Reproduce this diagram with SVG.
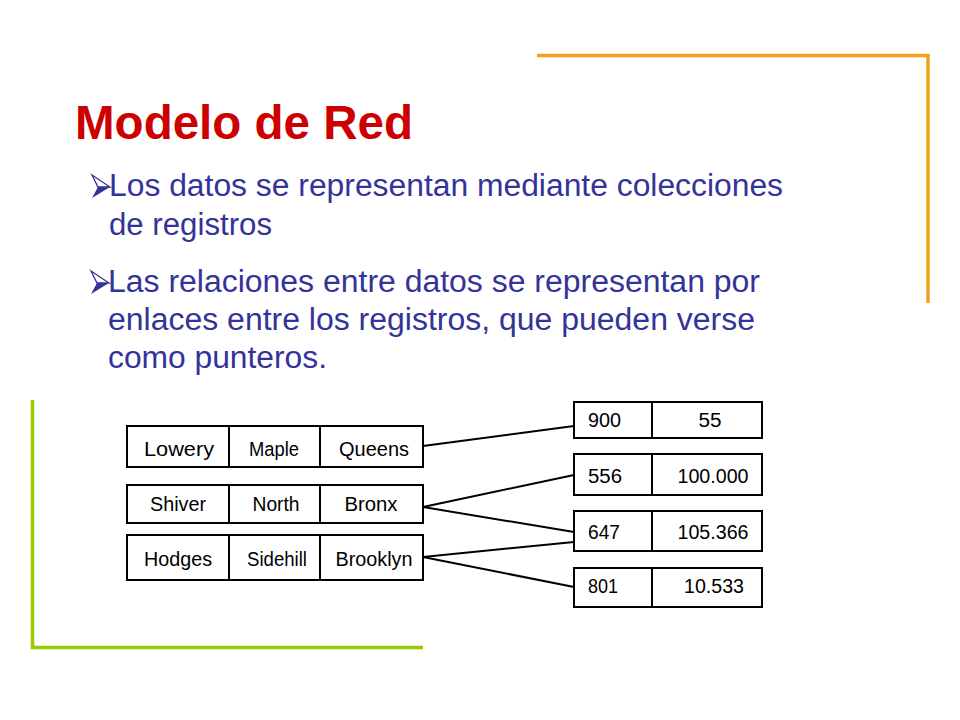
<svg xmlns="http://www.w3.org/2000/svg" width="960" height="720" viewBox="0 0 960 720">
<style>
.title{font-family:"Liberation Sans",Arial,sans-serif;font-weight:bold;font-size:48px;fill:#cc0000}
.body{font-family:"Liberation Sans",Arial,sans-serif;font-size:31px;fill:#333399}
.cell{fill:#fff;stroke:#000;stroke-width:2}
.div{stroke:#000;stroke-width:2}
.t{font-family:"Liberation Sans",Arial,sans-serif;font-size:20px;fill:#000}
.tc{text-anchor:middle}
.conn line{stroke:#000;stroke-width:2}
.bul-top{fill:#fff;stroke:#333399;stroke-width:1.3}
.bul-bot{fill:#333399}
</style>
<rect width="960" height="720" fill="#fff"/>
<g id="frame">
<polyline points="537,55.5 928,55.5 928,303" fill="none" stroke="#f5a01a" stroke-width="3.5"/>
<polyline points="32.5,400 32.5,647.5 423,647.5" fill="none" stroke="#99cc00" stroke-width="3.5"/>
</g>
<g id="title"><text class="title" x="75" y="139" textLength="338" lengthAdjust="spacingAndGlyphs">Modelo de Red</text></g>
<g id="bullets">
<polygon class="bul-top" points="92,175 110,187 98,187"/>
<polygon class="bul-bot" points="98,187 110,187 92,198"/>
<text class="body" x="109" y="196" textLength="674" lengthAdjust="spacingAndGlyphs">Los datos se representan mediante colecciones</text>
<text class="body" x="109" y="235" textLength="163" lengthAdjust="spacingAndGlyphs">de registros</text>
<polygon class="bul-top" points="91,271 109,283 97,283"/>
<polygon class="bul-bot" points="97,283 109,283 91,294"/>
<text class="body" x="108" y="292" textLength="652" lengthAdjust="spacingAndGlyphs">Las relaciones entre datos se representan por</text>
<text class="body" x="108" y="330" textLength="647" lengthAdjust="spacingAndGlyphs">enlaces entre los registros, que pueden verse</text>
<text class="body" x="108" y="368" textLength="219" lengthAdjust="spacingAndGlyphs">como punteros.</text>
</g>
<g class="conn" id="connectors">
<line x1="423" y1="446" x2="574" y2="426"/>
<line x1="423" y1="507" x2="574" y2="475"/>
<line x1="423" y1="507" x2="574" y2="532"/>
<line x1="423" y1="557" x2="574" y2="542"/>
<line x1="423" y1="557" x2="574" y2="587"/>
</g>
<g id="rec-lowery">
<rect class="cell" x="127" y="426" width="296" height="41"/>
<line class="div" x1="229" y1="426" x2="229" y2="467"/>
<line class="div" x1="320" y1="426" x2="320" y2="467"/>
<text class="t tc" x="179" y="456" textLength="70" lengthAdjust="spacingAndGlyphs">Lowery</text>
<text class="t tc" x="274" y="456" textLength="50" lengthAdjust="spacingAndGlyphs">Maple</text>
<text class="t tc" x="374" y="456" textLength="70" lengthAdjust="spacingAndGlyphs">Queens</text>
</g>
<g id="rec-shiver">
<rect class="cell" x="127" y="485" width="296" height="38"/>
<line class="div" x1="229" y1="485" x2="229" y2="523"/>
<line class="div" x1="320" y1="485" x2="320" y2="523"/>
<text class="t tc" x="178" y="511" textLength="56" lengthAdjust="spacingAndGlyphs">Shiver</text>
<text class="t tc" x="276" y="511" textLength="47" lengthAdjust="spacingAndGlyphs">North</text>
<text class="t tc" x="371" y="511" textLength="53" lengthAdjust="spacingAndGlyphs">Bronx</text>
</g>
<g id="rec-hodges">
<rect class="cell" x="127" y="535" width="296" height="45"/>
<line class="div" x1="229" y1="535" x2="229" y2="580"/>
<line class="div" x1="320" y1="535" x2="320" y2="580"/>
<text class="t tc" x="178" y="566" textLength="68" lengthAdjust="spacingAndGlyphs">Hodges</text>
<text class="t tc" x="277" y="566" textLength="60" lengthAdjust="spacingAndGlyphs">Sidehill</text>
<text class="t tc" x="374" y="566" textLength="77" lengthAdjust="spacingAndGlyphs">Brooklyn</text>
</g>
<g id="rec-900">
<rect class="cell" x="574" y="402" width="188" height="36"/>
<line class="div" x1="652" y1="402" x2="652" y2="438"/>
<text class="t" x="588" y="427" textLength="33" lengthAdjust="spacingAndGlyphs">900</text>
<text class="t tc" x="710" y="427" textLength="23" lengthAdjust="spacingAndGlyphs">55</text>
</g>
<g id="rec-556">
<rect class="cell" x="574" y="454" width="188" height="41"/>
<line class="div" x1="652" y1="454" x2="652" y2="495"/>
<text class="t" x="588" y="483" textLength="34" lengthAdjust="spacingAndGlyphs">556</text>
<text class="t tc" x="713" y="483" textLength="71" lengthAdjust="spacingAndGlyphs">100.000</text>
</g>
<g id="rec-647">
<rect class="cell" x="574" y="511" width="188" height="40"/>
<line class="div" x1="652" y1="511" x2="652" y2="551"/>
<text class="t" x="588" y="539" textLength="32" lengthAdjust="spacingAndGlyphs">647</text>
<text class="t tc" x="713" y="539" textLength="71" lengthAdjust="spacingAndGlyphs">105.366</text>
</g>
<g id="rec-801">
<rect class="cell" x="574" y="568" width="188" height="39"/>
<line class="div" x1="652" y1="568" x2="652" y2="607"/>
<text class="t" x="588" y="593" textLength="30" lengthAdjust="spacingAndGlyphs">801</text>
<text class="t tc" x="714" y="593" textLength="60" lengthAdjust="spacingAndGlyphs">10.533</text>
</g>
</svg>
